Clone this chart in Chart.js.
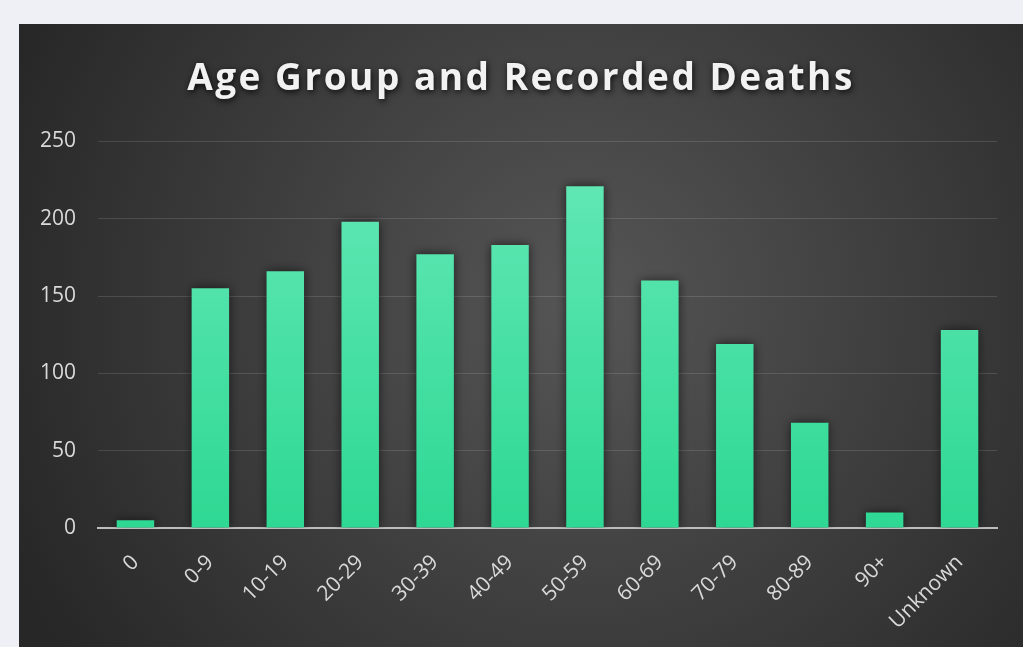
<!DOCTYPE html>
<html>
<head>
<meta charset="utf-8">
<script src="https://cdn.jsdelivr.net/npm/chart.js@4"></script>
<style>
  html, body { margin: 0; padding: 0; background: #eff0f5; }
  #panel { position: absolute; left: 19px; top: 24px; width: 1004px; height: 623px; }
</style>
</head>
<body>
<div id="panel"><canvas id="chart" width="1004" height="623"></canvas></div>
<script>
// ── Data ───────────────────────────────────────────────────
const ageGroups = ['0', '0-9', '10-19', '20-29', '30-39', '40-49', '50-59', '60-69', '70-79', '80-89', '90+', 'Unknown'];
const deaths    = [5, 155, 166, 198, 177, 183, 221, 160, 119, 68, 10, 128];
const yTicks    = [0, 50, 100, 150, 200, 250];
const chartTitle = 'Age Group and Recorded Deaths';

const FONT = "'Open Sans', 'DejaVu Sans', sans-serif";

// ── Panel background (radial dark grey) ────────────────────
const panelBg = {
  id: 'panelBg',
  beforeDraw(chart) {
    const { ctx, width, height } = chart;
    const cx = width * 0.56, cy = height * 0.45;
    const g = ctx.createRadialGradient(cx, cy, 10, cx, cy, width * 0.62);
    g.addColorStop(0, '#555555');
    g.addColorStop(1, '#272727');
    ctx.save();
    ctx.fillStyle = g;
    ctx.fillRect(0, 0, width, height);
    ctx.restore();
  }
};

// ── Soft shadow for bars and title ─────────────────────────
const shadows = {
  id: 'shadows',
  afterInit(chart) {
    const tb = chart.titleBlock;
    if (!tb) return;
    const orig = tb.draw;
    tb.draw = function () {
      const ctx = chart.ctx;
      ctx.save();
      ctx.translate(13, 0);           // centre on the whole panel, not the padded area
      ctx.letterSpacing = '2.5px';
      ctx.shadowColor = 'rgba(0,0,0,0.85)';
      ctx.shadowBlur = 6;
      ctx.shadowOffsetX = 1;
      ctx.shadowOffsetY = 2;
      orig.apply(this, arguments);
      ctx.restore();
    };
  },
  beforeDatasetsDraw(chart) {
    const ctx = chart.ctx;
    ctx.save();
    ctx.shadowColor = 'rgba(0,0,0,0.6)';
    ctx.shadowBlur = 10;
  },
  afterDatasetsDraw(chart) {
    chart.ctx.restore();
  }
};

function barGradient(context) {
  const { ctx, chartArea } = context.chart;
  if (!chartArea) return '#3ddfa0';
  const g = ctx.createLinearGradient(0, chartArea.top, 0, chartArea.bottom);
  g.addColorStop(0, '#66e9b8');
  g.addColorStop(1, '#2ed893');
  return g;
}

new Chart(document.getElementById('chart'), {
  type: 'bar',
  data: {
    labels: ageGroups,
    datasets: [{
      label: 'Recorded Deaths',
      data: deaths,
      backgroundColor: barGradient,
      borderWidth: 0,
      barPercentage: 0.5,
      categoryPercentage: 1.0
    }]
  },
  plugins: [panelBg, shadows],
  options: {
    responsive: false,
    animation: false,
    layout: { padding: { left: 0, right: 26, top: 0, bottom: 0 } },
    plugins: {
      legend: { display: false },
      tooltip: { enabled: false },
      title: {
        display: true,
        text: chartTitle,
        color: '#f2f2f2',
        font: { family: FONT, size: 37, weight: 'bold' },
        padding: { top: 33, bottom: 40 }
      }
    },
    scales: {
      x: {
        grid: { display: false },
        border: { display: true, color: '#bdbdbd', width: 2 },
        ticks: {
          color: '#d9d9d9',
          font: { family: FONT, size: 21 },
          minRotation: 45,
          maxRotation: 45,
          padding: 14
        },
        afterFit(scale) { scale.height = 119; }
      },
      y: {
        min: 0,
        max: 250,
        afterBuildTicks(scale) { scale.ticks = yTicks.map(v => ({ value: v })); },
        grid: { color: 'rgba(255,255,255,0.13)', lineWidth: 1, drawTicks: false },
        border: { display: false },
        ticks: {
          color: '#d9d9d9',
          font: { family: FONT, size: 21 },
          padding: 22
        },
        afterFit(scale) { scale.width = 79; }
      }
    }
  }
});
</script>
</body>
</html>
